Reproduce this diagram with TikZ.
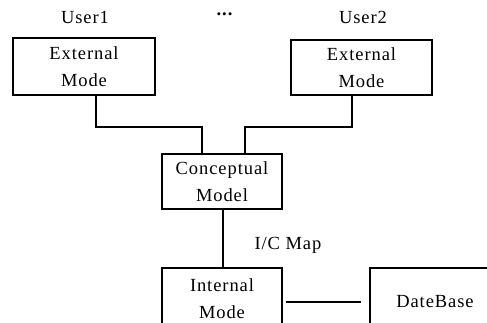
\documentclass[tikz,border=0pt]{standalone}
\usepackage{fontspec}
\setmainfont[LetterSpace=5]{Liberation Serif}
\begin{document}
\begin{tikzpicture}[x=1pt,y=-1pt,
  box/.style={draw, line width=1.2pt, inner sep=0pt, align=center,
    font=\fontsize{18.5}{27}\selectfont},
  lbl/.style={inner sep=0pt, font=\fontsize{18.5}{20}\selectfont},
  conn/.style={line width=1.2pt}]
\useasboundingbox (0,0) rectangle (487,322);
\clip (0,0) rectangle (487,322);
\node[lbl] (u1) at (85,17) {User1};
\node[lbl] (dots) at (225,14) {\textbf{...}};
\node[lbl] (u2) at (363,17) {User2};
\node[box, minimum width=142pt, minimum height=57pt] (ext1) at (84,66.5) {External\\Mode};
\node[box, minimum width=141pt, minimum height=55pt] (ext2) at (361.5,67.5) {External\\Mode};
\node[box, minimum width=120pt, minimum height=55pt] (conc) at (222,181.5) {Conceptual\\Model};
\node[box, minimum width=120pt, minimum height=62pt] (int) at (222,299) {Internal\\Mode};
\node[box, minimum width=130pt, minimum height=68pt] (db) at (435,302) {DateBase};
\node[lbl] (map) at (288,245) {I/C Map};
\coordinate (a1) at (96,127);
\coordinate (a2) at (202,127);
\coordinate (b1) at (352,127);
\coordinate (b2) at (245,127);
\draw[conn] (ext1.south -| a1) -- (a1) -- (a2) -- (a2 |- conc.north);
\draw[conn] (ext2.south -| b1) -- (b1) -- (b2) -- (b2 |- conc.north);
\draw[conn] ([xshift=1pt]conc.south) -- ([xshift=1pt]int.north);
\draw[conn, shorten <=3pt, shorten >=8pt] (int.east |- db.west) -- (db.west);
\end{tikzpicture}
\end{document}
